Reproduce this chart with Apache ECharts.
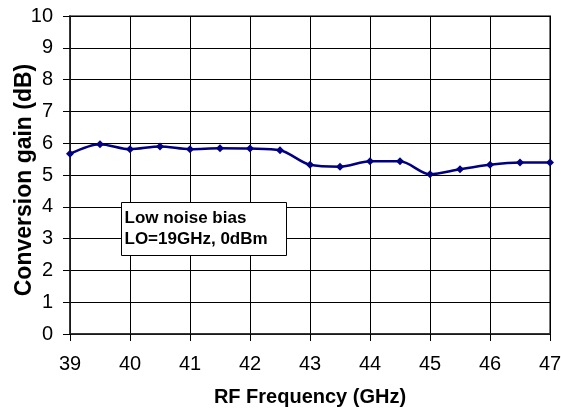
<!DOCTYPE html>
<html><head><meta charset="utf-8">
<script src="https://cdn.jsdelivr.net/npm/echarts@6/dist/echarts.min.js"></script>
<style>html,body{margin:0;padding:0;background:#fff}#c{width:561px;height:408px}</style>
</head><body><div id="c"></div>
<script>
const freqs = [39, 39.5, 40, 40.5, 41, 41.5, 42, 42.5, 43, 43.5, 44, 44.5, 45, 45.5, 46, 46.5, 47];
const gain = [5.67, 5.97, 5.81, 5.9, 5.81, 5.84, 5.83, 5.78, 5.32, 5.26, 5.43, 5.43, 5.02, 5.18, 5.32, 5.39, 5.39];
const xTicks = [39, 40, 41, 42, 43, 44, 45, 46, 47];
const yTicks = [0, 1, 2, 3, 4, 5, 6, 7, 8, 9, 10];
const noteLines = ['Low noise bias', 'LO=19GHz, 0dBm'];

const chart = echarts.init(document.getElementById('c'));
const font = 'Liberation Sans, Arial, sans-serif';
chart.setOption({
  animation: false,
  backgroundColor: '#fff',
  grid: {left: 70, right: 11, top: 16, bottom: 74, containLabel: false, outerBoundsMode: 'none',
         show: true, borderColor: '#777', borderWidth: 2, backgroundColor: 'transparent'},
  xAxis: {
    type: 'value', min: xTicks[0], max: xTicks[xTicks.length-1], interval: 1,
    name: 'RF Frequency (GHz)', nameLocation: 'middle', nameGap: 53, nameMoveOverlap: false,
    nameTextStyle: {fontFamily: font, fontSize: 20, fontWeight: 'bold', color: '#000'},
    axisLine: {lineStyle: {color: '#222', width: 1.5}},
    axisTick: {show: true, length: 7, lineStyle: {color: '#000'}},
    axisLabel: {fontFamily: font, fontSize: 20, color: '#000', margin: 20},
    splitLine: {show: true, lineStyle: {color: '#000', width: 1}}
  },
  yAxis: {
    type: 'value', min: yTicks[0], max: yTicks[yTicks.length-1], interval: 1,
    name: 'Conversion gain (dB)', nameLocation: 'middle', nameGap: 34, nameMoveOverlap: false,
    nameTextStyle: {fontFamily: font, fontSize: 23, fontWeight: 'bold', color: '#000', padding: [0, 10, 0, 0]},
    axisLine: {show: true, lineStyle: {color: '#222', width: 1.5}},
    axisTick: {show: true, length: 7, lineStyle: {color: '#000'}},
    axisLabel: {fontFamily: font, fontSize: 20, color: '#000', margin: 17},
    splitLine: {show: true, lineStyle: {color: '#000', width: 1}}
  },
  series: [{
    type: 'line', smooth: 0.3,
    data: freqs.map((f, i) => [f, gain[i]]),
    symbol: 'diamond', symbolSize: 8,
    lineStyle: {color: '#000080', width: 2.5},
    itemStyle: {color: '#000080'}
  }],
  graphic: [{
    type: 'group', left: 121, top: 202, z: 100,
    children: [
      {type: 'rect', z: 100, shape: {x: 0, y: 0, width: 165, height: 53},
       style: {fill: '#fff', stroke: '#000', lineWidth: 1}},
      {type: 'text', z: 101, x: 3, y: 5,
       style: {text: noteLines.join('\n'), font: 'bold 17px Liberation Sans, Arial, sans-serif',
               fill: '#000', lineHeight: 21}}
    ]
  }]
});
</script></body></html>
